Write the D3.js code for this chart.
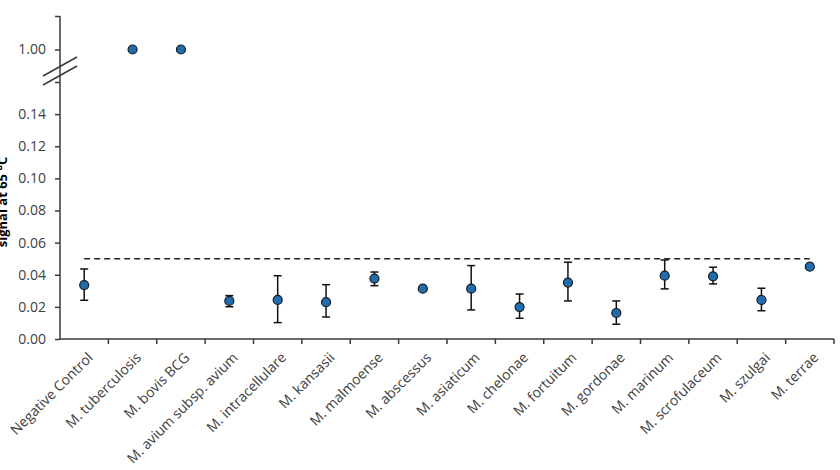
<!DOCTYPE html>
<html>
<head>
<meta charset="utf-8">
<script src="https://cdn.jsdelivr.net/npm/d3@7"></script>
<style>
  body { margin: 0; background: #fff; }
  svg { display: block; }
  .tick text { font-family: "Open Sans", "Noto Sans", sans-serif; font-size: 14px; fill: #404040; }
</style>
</head>
<body>
<svg width="840" height="470"></svg>
<script>
// species on the x axis
const species = ["Negative Control", "M. tuberculosis", "M. bovis BCG", "M. avium subsp. avium",
  "M. intracellulare", "M. kansasii", "M. malmoense", "M. abscessus", "M. asiaticum",
  "M. chelonae", "M. fortuitum", "M. gordonae", "M. marinum", "M. scrofulaceum",
  "M. szulgai", "M. terrae"];
// mean signal and error bar ends
const means = [0.0336, 1.00, 1.00, 0.0237, 0.0243, 0.0229, 0.0376, 0.0313, 0.0313,
  0.0199, 0.0351, 0.0162, 0.0394, 0.0390, 0.0243, 0.0450];
const errLow = [0.0241, null, null, 0.0201, 0.0102, 0.0137, 0.0332, 0.0303, 0.0181,
  0.0129, 0.0237, 0.0092, 0.0312, 0.0343, 0.0176, 0.0437];
const errHigh = [0.0436, null, null, 0.0270, 0.0394, 0.0338, 0.0417, 0.0323, 0.0457,
  0.0280, 0.0478, 0.0237, 0.0492, 0.0447, 0.0316, 0.0463];
const cutoff = 0.05;
const lowTicks = [0, 0.02, 0.04, 0.06, 0.08, 0.10, 0.12, 0.14, 0.16];
const highTicks = [1.00, 1.02];

const svg = d3.select("svg");
const axisColor = "#3a3a3a";

let x = d3.scaleBand().domain(species).range([60, 834]);
let yLow = d3.scaleLinear().domain([0, 0.16]).range([339, 82]);
let yHigh = d3.scaleLinear().domain([0.98, 1.02]).range([83, 16]);
let yOf = v => v > 0.5 ? yHigh(v) : yLow(v);

// y axis, lower part
let gLow = svg.append("g").attr("transform", "translate(60,0)")
  .call(d3.axisLeft(yLow).tickValues(lowTicks).tickSize(5).tickSizeOuter(0)
    .tickFormat(d => d > 0.15 ? "" : d3.format(".2f")(d)));
// y axis, upper part
let gHigh = svg.append("g").attr("transform", "translate(60,0)")
  .call(d3.axisLeft(yHigh).tickValues(highTicks).tickSize(5).tickSizeOuter(0)
    .tickFormat(d => d > 1.01 ? "" : d3.format(".2f")(d)));
[gLow, gHigh].forEach(g => {
  g.select(".domain").remove();
  g.selectAll(".tick line").attr("stroke", axisColor).attr("stroke-width", 1.5);
  g.selectAll(".tick text").attr("x", -14);
});
svg.append("line").attr("x1", 60).attr("x2", 60).attr("y1", yHigh(1.02)).attr("y2", yLow(0))
  .attr("stroke", axisColor).attr("stroke-width", 1.5);

// axis break marks
[0, 9].forEach(dy => {
  svg.append("line").attr("x1", 43).attr("y1", 76 + dy).attr("x2", 77).attr("y2", 57 + dy)
    .attr("stroke", axisColor).attr("stroke-width", 1.5);
});

// x axis
let gx = svg.append("g").attr("transform", `translate(0,${yLow(0)})`);
gx.append("line").attr("x1", 60).attr("x2", 834).attr("stroke", axisColor).attr("stroke-width", 1.5);
gx.selectAll(".xt").data(species.map((d, i) => i + 1)).join("line")
  .attr("x1", i => x(species[0]) + i * x.step()).attr("x2", i => x(species[0]) + i * x.step())
  .attr("y1", 0).attr("y2", 5).attr("stroke", axisColor).attr("stroke-width", 1.5);
gx.selectAll(".xl").data(species).join("text")
  .attr("transform", d => `translate(${x(d) + x.bandwidth() / 2 + 6},${16}) rotate(-45)`)
  .attr("text-anchor", "end").attr("dy", "0.35em")
  .attr("font-family", "'Open Sans', 'Noto Sans', sans-serif").attr("font-size", 14)
  .attr("fill", "#404040")
  .text(d => d);

// y label (partly off the left edge, as in the reference)
svg.append("text")
  .attr("transform", "translate(7,202) rotate(-90)")
  .attr("text-anchor", "middle")
  .attr("font-family", "'Open Sans', 'Noto Sans', sans-serif").attr("font-weight", "bold")
  .attr("font-size", 13).attr("fill", "#000")
  .text("signal at 65 °C");

// cutoff line
let cx = d => x(d) + x.bandwidth() / 2;
svg.append("line")
  .attr("x1", cx(species[0])).attr("x2", cx(species[species.length - 1]))
  .attr("y1", yLow(cutoff)).attr("y2", yLow(cutoff))
  .attr("stroke", "#222").attr("stroke-width", 1.5).attr("stroke-dasharray", "6,4");

// error bars
let rows = species.map((s, i) => ({ s, m: means[i], lo: errLow[i], hi: errHigh[i] }));
let bars = svg.append("g").selectAll("g").data(rows.filter(r => r.lo !== null)).join("g")
  .attr("stroke", "#111").attr("stroke-width", 1.5);
bars.append("line").attr("x1", r => cx(r.s)).attr("x2", r => cx(r.s))
  .attr("y1", r => yLow(r.lo)).attr("y2", r => yLow(r.hi));
bars.append("line").attr("x1", r => cx(r.s) - 4).attr("x2", r => cx(r.s) + 4)
  .attr("y1", r => yLow(r.lo)).attr("y2", r => yLow(r.lo));
bars.append("line").attr("x1", r => cx(r.s) - 4).attr("x2", r => cx(r.s) + 4)
  .attr("y1", r => yLow(r.hi)).attr("y2", r => yLow(r.hi));

// points
svg.append("g").selectAll("circle").data(rows).join("circle")
  .attr("cx", r => cx(r.s)).attr("cy", r => yOf(r.m)).attr("r", 4.5)
  .attr("fill", "#1f6db0").attr("stroke", "#1a1a1a").attr("stroke-width", 1.2);
</script>
</body>
</html>
